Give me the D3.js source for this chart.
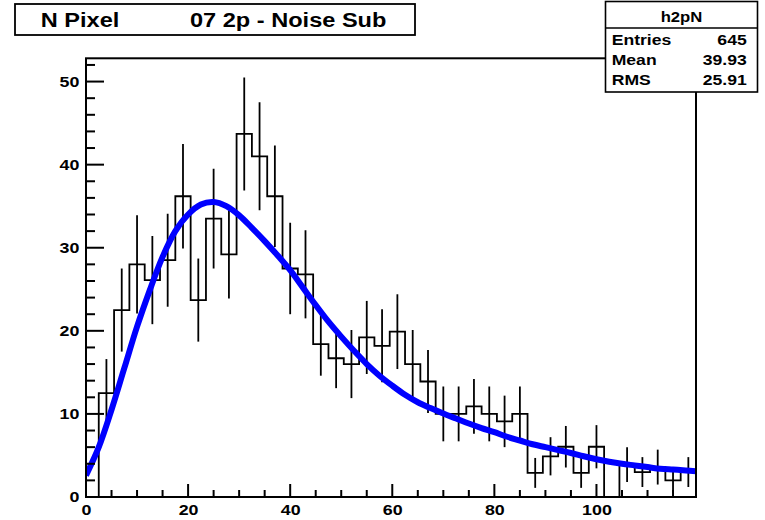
<!DOCTYPE html>
<html>
<head>
<meta charset="utf-8">
<title>N Pixel 07 2p - Noise Sub</title>
<script src="https://cdn.jsdelivr.net/npm/d3@7"></script>
<style>
  body { margin: 0; background: #fff; }
  svg text { font-family: "Liberation Sans", Arial, Helvetica, sans-serif; font-weight: bold; fill: #000; }
</style>
</head>
<body>
<svg id="svg"></svg>
<script>
// histogram h2pN : 40 bins, width 3, first low edge -0.5
var binLow = -0.5;
var binWidth = 3;
var counts = [0, 12.5, 22.5, 28.0, 26.1, 28.5, 36.2, 23.7, 33.5, 29.2,
              43.7, 41.0, 36.2, 27.5, 26.8, 18.4, 16.7, 16.0, 19.2, 18.2,
              19.9, 16.0, 13.9, 10.0, 10.0, 10.9, 10.0, 9.1, 10.0, 2.9,
              4.9, 6.05, 2.9, 6.05, 0, 3.9, 3.0, 3.6, 2.0, 3.0];
var errors = [0, 4.1, 5.0, 5.9, 5.3, 5.6, 6.3, 5.0, 6.0, 5.3,
              6.8, 6.5, 6.1, 5.5, 5.3, 3.8, 3.6, 4.1, 4.4, 4.4,
              4.5, 4.1, 3.8, 3.3, 3.3, 3.3, 3.3, 3.1, 3.3, 1.8,
              2.3, 2.5, 1.8, 2.6, 0, 2.1, 1.8, 2.1, 1.5, 1.8];

// fit curve (blue)
var fitX = [0, 2.5, 5, 7.5, 10, 12.5, 15, 17.5, 20, 22.5, 25, 27.5, 30, 32.5, 35, 37.5,
            40, 42.5, 45, 47.5, 50, 52.5, 55, 57.5, 60, 62.5, 65, 67.5, 70, 72.5, 75, 77.5,
            80, 82.5, 85, 87.5, 90, 92.5, 95, 97.5, 100, 102.5, 105, 107.5, 110, 112.5, 115, 117.5, 119.5];
var fitY = [2.6, 6.0, 10.5, 15.5, 20.5, 24.9, 28.9, 32.0, 34.0, 35.2, 35.5, 35.0, 33.9, 32.4, 30.8, 29.1,
            27.3, 25.2, 23.1, 21.1, 19.3, 17.6, 16.0, 14.6, 13.4, 12.3, 11.4, 10.7, 10.05, 9.45, 8.85, 8.3,
            7.8, 7.25, 6.8, 6.35, 6.0, 5.65, 5.3, 4.9, 4.55, 4.25, 4.0, 3.8, 3.6, 3.4, 3.3, 3.2, 3.1];

var xTicks = [0, 20, 40, 60, 80, 100];
var xMinor = [5, 10, 15, 25, 30, 35, 45, 50, 55, 65, 70, 75, 85, 90, 95, 105, 110, 115];
var yTicks = [0, 10, 20, 30, 40, 50];
var yMinor = [2, 4, 6, 8, 12, 14, 16, 18, 22, 24, 26, 28, 32, 34, 36, 38, 42, 44, 46, 48, 52];

var titleLeft = "N Pixel";
var titleRight = "07 2p - Noise Sub";
var statName = "h2pN";
var statLabels = ["Entries", "Mean", "RMS"];
var statValues = ["645", "39.93", "25.91"];

var width = 765, height = 520;
var frame = {left: 86, right: 696, top: 58.3, bottom: 497};
var stretch = 1.15;   // the original picture is a bit wider than tall

var svg = d3.select("#svg")
    .attr("width", width)
    .attr("height", height);

var x = d3.scaleLinear().domain([0, 119.5]).range([frame.left, frame.right]);
var y = d3.scaleLinear().domain([0, 52.8]).range([frame.bottom, frame.top]);

svg.append("clipPath").attr("id", "plotclip")
  .append("rect")
    .attr("x", frame.left).attr("y", frame.top)
    .attr("width", frame.right - frame.left)
    .attr("height", frame.bottom - frame.top);

var plot = svg.append("g").attr("clip-path", "url(#plotclip)");

// histogram outline as steps
var steps = counts.map(function(c, i) { return [binLow + i * binWidth, c]; });
steps.push([binLow + counts.length * binWidth, counts[counts.length - 1]]);

plot.append("path")
    .datum(steps)
    .attr("fill", "none")
    .attr("stroke", "#000")
    .attr("stroke-width", 1.8)
    .attr("d", d3.line()
        .x(function(d) { return x(d[0]); })
        .y(function(d) { return y(d[1]); })
        .curve(d3.curveStepAfter));

// error bars
plot.selectAll("line.err")
    .data(counts.map(function(c, i) { return {c: c, e: errors[i], mid: binLow + (i + 0.5) * binWidth}; })
                .filter(function(d) { return d.e > 0; }))
  .enter().append("line")
    .attr("class", "err")
    .attr("x1", function(d) { return x(d.mid); })
    .attr("x2", function(d) { return x(d.mid); })
    .attr("y1", function(d) { return y(d.c - d.e); })
    .attr("y2", function(d) { return y(d.c + d.e); })
    .attr("stroke", "#000")
    .attr("stroke-width", 1.8);

// fit
plot.append("path")
    .datum(fitX.map(function(v, i) { return [v, fitY[i]]; }))
    .attr("fill", "none")
    .attr("stroke", "#0000ff")
    .attr("stroke-width", 6)
    .attr("stroke-linejoin", "round")
    .attr("d", d3.line()
        .x(function(d) { return x(d[0]); })
        .y(function(d) { return y(d[1]); })
        .curve(d3.curveCatmullRom));

// tick marks, pointing inside the frame
var tickLines = [];
xMinor.forEach(function(v) { tickLines.push([x(v), frame.bottom, x(v), frame.bottom - 7]); });
xTicks.forEach(function(v) { tickLines.push([x(v), frame.bottom, x(v), frame.bottom - 13]); });
yMinor.forEach(function(v) { tickLines.push([frame.left, y(v), frame.left + 9, y(v)]); });
yTicks.forEach(function(v) { tickLines.push([frame.left, y(v), frame.left + 18, y(v)]); });

svg.selectAll("line.tickmark")
    .data(tickLines)
  .enter().append("line")
    .attr("class", "tickmark")
    .attr("x1", function(d) { return d[0]; })
    .attr("y1", function(d) { return d[1]; })
    .attr("x2", function(d) { return d[2]; })
    .attr("y2", function(d) { return d[3]; })
    .attr("stroke", "#000")
    .attr("stroke-width", 2);

// tick labels
function styleAxis(g) {
    g.selectAll(".domain").remove();
    g.selectAll(".tick line").remove();
    g.attr("font-size", 15.5);
    g.selectAll("text").attr("transform", "scale(" + stretch + ",1)");
}

var gx = svg.append("g")
    .attr("transform", "translate(0," + frame.bottom + ")")
    .call(d3.axisBottom(x).tickValues(xTicks).tickSize(0).tickPadding(7).tickFormat(d3.format("d")));
styleAxis(gx);

var gy = svg.append("g")
    .attr("transform", "translate(" + frame.left + ",0)")
    .call(d3.axisLeft(y).tickValues(yTicks).tickSize(0).tickPadding(5.8).tickFormat(d3.format("d")));
styleAxis(gy);

// frame
svg.append("rect")
    .attr("x", frame.left).attr("y", frame.top)
    .attr("width", frame.right - frame.left)
    .attr("height", frame.bottom - frame.top)
    .attr("fill", "none")
    .attr("stroke", "#000")
    .attr("stroke-width", 2);

// title box
svg.append("rect")
    .attr("x", 15).attr("y", 4).attr("width", 400).attr("height", 31)
    .attr("fill", "#fff").attr("stroke", "#000").attr("stroke-width", 1.8);
svg.append("text")
    .attr("transform", "translate(40.7,27.3) scale(" + stretch + ",1)")
    .attr("font-size", 20.5)
    .text(titleLeft);
svg.append("text")
    .attr("transform", "translate(190,27.3) scale(" + stretch + ",1)")
    .attr("font-size", 20.5)
    .text(titleRight);

// stats box
var stats = svg.append("g");
stats.append("rect")
    .attr("x", 605.5).attr("y", 1.5).attr("width", 152).attr("height", 90.5)
    .attr("fill", "#fff").attr("stroke", "#000").attr("stroke-width", 1.6);
stats.append("line")
    .attr("x1", 605.5).attr("x2", 757.5).attr("y1", 28).attr("y2", 28)
    .attr("stroke", "#000").attr("stroke-width", 1.6);
stats.append("text")
    .attr("transform", "translate(681.5,21.5) scale(" + stretch + ",1)")
    .attr("font-size", 14.5)
    .style("text-anchor", "middle")
    .text(statName);
stats.selectAll("text.lab")
    .data(statLabels)
  .enter().append("text")
    .attr("class", "lab")
    .attr("transform", function(d, i) { return "translate(611.7," + (45 + 20 * i) + ") scale(" + stretch + ",1)"; })
    .attr("font-size", 15.3)
    .text(function(d) { return d; });
stats.selectAll("text.val")
    .data(statValues)
  .enter().append("text")
    .attr("class", "val")
    .attr("transform", function(d, i) { return "translate(746.7," + (45 + 20 * i) + ") scale(" + stretch + ",1)"; })
    .attr("font-size", 15.3)
    .style("text-anchor", "end")
    .text(function(d) { return d; });
</script>
</body>
</html>
